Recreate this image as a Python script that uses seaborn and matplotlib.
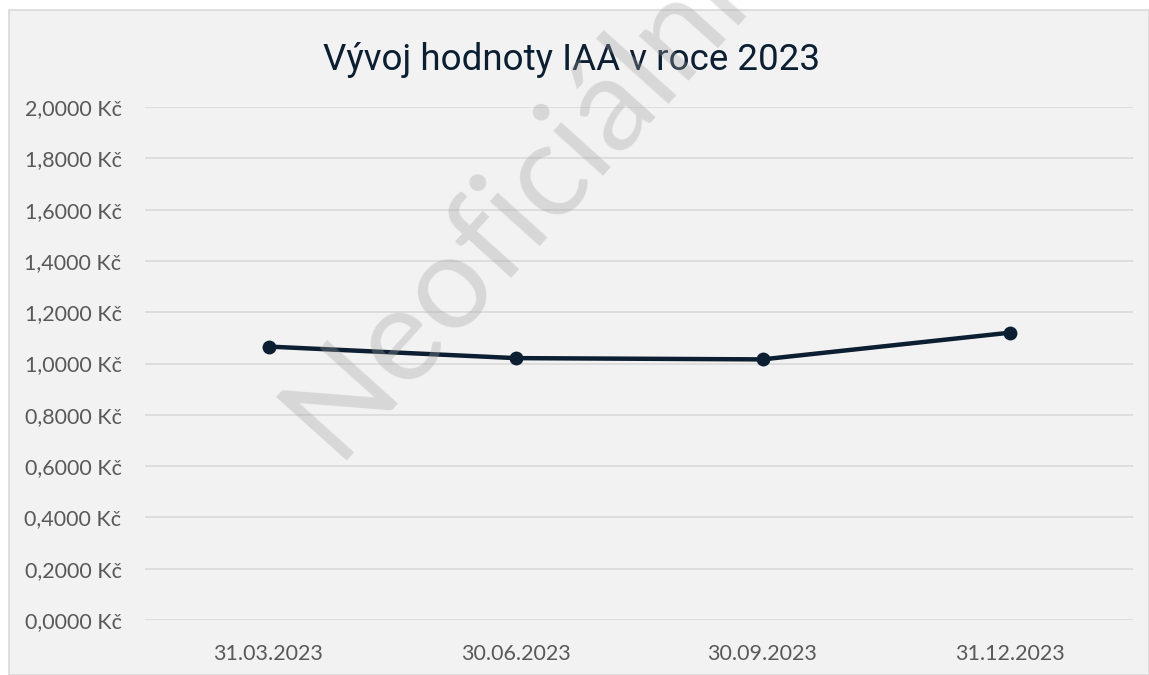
import matplotlib
matplotlib.use("Agg")
import matplotlib.pyplot as plt
import seaborn as sns
import pandas as pd
from matplotlib.patches import Rectangle
from matplotlib.ticker import FuncFormatter

# Data
dates = ["31.03.2023", "30.06.2023", "30.09.2023", "31.12.2023"]
values = [1.066, 1.021, 1.016, 1.120]

df = pd.DataFrame({"datum": dates, "hodnota": values})

sns.set_style("white")
plt.rcParams["font.family"] = ["Lato", "DejaVu Sans"]

W, H = 1149, 675
fig = plt.figure(figsize=(W / 100, H / 100), dpi=100)
fig.patch.set_facecolor("white")

# pozadí grafu + rámeček
bg = Rectangle((9 / W, 0), 1 - 9 / W, 1 - 10 / H, transform=fig.transFigure,
               facecolor="#f2f2f2", edgecolor="#d9d9d9", linewidth=1.2, zorder=-10)
fig.patches.append(bg)

ax = fig.add_axes([145 / W, 1 - 620 / H, (1133 - 145) / W, (620 - 107) / H])
ax.set_facecolor("none")

sns.lineplot(data=df, x="datum", y="hodnota", ax=ax, sort=False,
             color="#0c1e31", linewidth=3.2, marker="o", markersize=10,
             markeredgewidth=0, zorder=5)

ax.set_xlim(-0.5, len(dates) - 0.5)
ax.set_ylim(0, 2.0)
ax.set_yticks([i * 0.2 for i in range(11)])
ax.yaxis.set_major_formatter(FuncFormatter(lambda v, p: f"{v:.4f}".replace(".", ",") + " Kč"))
ax.grid(axis="y", color="#d9d9d9", linewidth=1.2)
ax.grid(axis="x", visible=False)
for s in ax.spines.values():
    s.set_visible(False)
ax.tick_params(axis="y", length=0, pad=17, labelsize=15.5, labelcolor="#595959")
ax.tick_params(axis="x", length=0, pad=17, labelsize=15.5, labelcolor="#595959")
ax.set_xlabel("")
ax.set_ylabel("")

fig.text(572 / W, 1 - 60 / H, "Vývoj hodnoty IAA v roce 2023", ha="center", va="center",
         fontsize=26.5, color="#0c1e31", family=["Roboto", "DejaVu Sans"])

# vodoznak přes celý graf
fig.text(515 / W, 1 - 205 / H, "Neoficiální", rotation=48, fontsize=95,
         color="#a0a0a0", alpha=0.32, ha="center", va="center", zorder=20)

fig.savefig("out.png", dpi=100, facecolor=fig.get_facecolor())
